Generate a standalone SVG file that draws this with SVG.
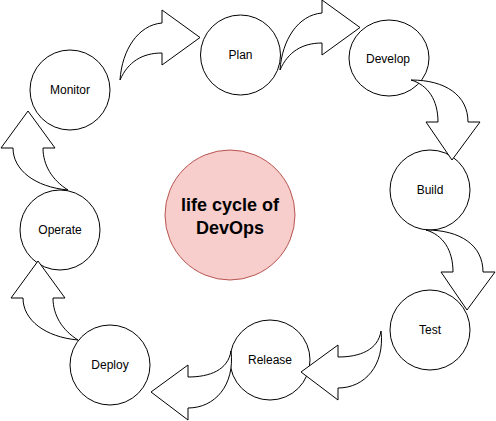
<svg xmlns="http://www.w3.org/2000/svg" width="496" height="421" viewBox="0 0 496 421">
<style>
.node{fill:#ffffff;stroke:#000000;stroke-width:1}
.lbl{font-family:"Liberation Sans",Arial,sans-serif;font-size:12px;fill:#000000;text-anchor:middle;dominant-baseline:central}
.arrow{fill:#ffffff;stroke:#000000;stroke-width:1;stroke-linejoin:miter}
.center{fill:#f8cecc;stroke:#b85450;stroke-width:1}
.title{font-family:"Liberation Sans",Arial,sans-serif;font-size:18px;font-weight:bold;fill:#000000;text-anchor:middle;dominant-baseline:central}
</style>
<rect width="496" height="421" fill="#ffffff"/>
<g id="center">
<circle class="center" cx="230" cy="215" r="65"/>
<text class="title" x="230" y="205">life cycle of</text>
<text class="title" x="230" y="228">DevOps</text>
</g>
<g id="monitor"><circle class="node" cx="70" cy="90" r="40"/><text class="lbl" x="70" y="90">Monitor</text></g>
<g id="plan"><circle class="node" cx="240.5" cy="55" r="40"/><text class="lbl" x="240.5" y="55">Plan</text></g>
<g id="develop"><ellipse class="node" cx="389" cy="58" rx="40" ry="38"/><text class="lbl" x="388" y="59">Develop</text></g>
<g id="build"><circle class="node" cx="430" cy="190" r="40"/><text class="lbl" x="430" y="190">Build</text></g>
<g id="test"><circle class="node" cx="430" cy="330" r="40"/><text class="lbl" x="430" y="330">Test</text></g>
<g id="release"><circle class="node" cx="270" cy="360" r="40"/><text class="lbl" x="270" y="360">Release</text></g>
<g id="deploy"><circle class="node" cx="110" cy="365" r="40"/><text class="lbl" x="110" y="365">Deploy</text></g>
<g id="operate"><circle class="node" cx="60" cy="230" r="40"/><text class="lbl" x="60" y="230">Operate</text></g>
<g id="connectors">
<defs>
<path id="arrR" d="M120,80 C122,50 138,25 162,23 L162,10 L200,37.5 L162,65 L162,53 C142,53 128,62 120,80 Z"/>
<path id="arrD" d="M411,80 C445,80 468,95 468,122 L480,122 L452,160 L426,122 L438,122 C438,100 428,85 411,80 Z"/>
<path id="arrL" d="M381,331 C385,365 365,388 338,388 L338,400 L301,372 L338,345 L338,357 C360,357 378,350 381,331 Z"/>
<path id="arrU" d="M78,340 C45,337 23,320 23,298 L11,298 L38,261 L65,298 L53,298 C53,315 62,330 78,340 Z"/>
</defs>
<use href="#arrR" class="arrow"/>
<use href="#arrR" class="arrow" transform="translate(160,-10)"/>
<use href="#arrD" class="arrow"/>
<use href="#arrD" class="arrow" transform="translate(15,150)"/>
<use href="#arrL" class="arrow"/>
<use href="#arrL" class="arrow" transform="translate(-150,20)"/>
<use href="#arrU" class="arrow"/>
<use href="#arrU" class="arrow" transform="translate(-10,-150)"/>
</g>
</svg>
